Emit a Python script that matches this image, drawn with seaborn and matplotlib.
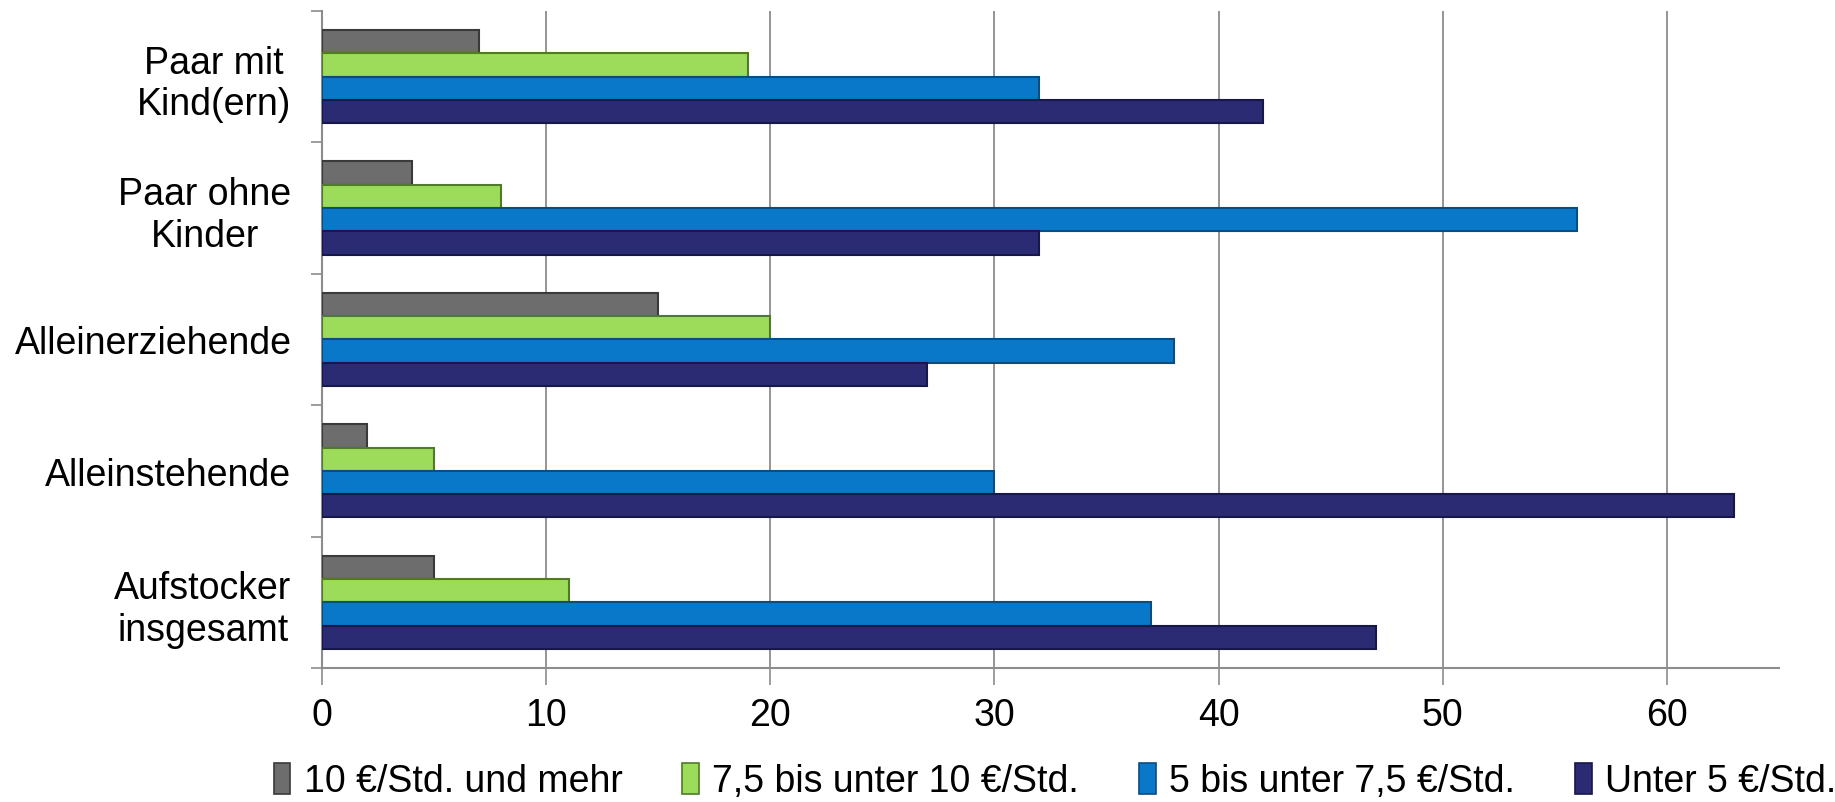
import matplotlib
matplotlib.use("Agg")
import matplotlib.pyplot as plt
import seaborn as sns
import pandas as pd
from matplotlib.patches import Patch

categories = ["Paar mit\nKind(ern)", "Paar ohne\nKinder", "Alleinerziehende",
              "Alleinstehende", "Aufstocker\ninsgesamt"]
series = ["10 €/Std. und mehr", "7,5 bis unter 10 €/Std.",
          "5 bis unter 7,5 €/Std.", "Unter 5 €/Std."]
v_10_mehr = [7, 4, 15, 2, 5]
v_75_10 = [19, 8, 20, 5, 11]
v_5_75 = [32, 56, 38, 30, 37]
v_unter5 = [42, 32, 27, 63, 47]
x_ticks = [0, 10, 20, 30, 40, 50, 60]

colors = ["#6d6d6d", "#9ddc5a", "#0a78c8", "#2b2b74"]
edges = ["#3a3a3a", "#4f7a2a", "#0a4d80", "#17174a"]

rows = []
for s, vals in zip(series, [v_10_mehr, v_75_10, v_5_75, v_unter5]):
    for c, v in zip(categories, vals):
        rows.append({"Kategorie": c, "Serie": s, "Wert": v})
df = pd.DataFrame(rows)

sns.set_theme(style="white")
plt.rcParams["font.family"] = ["Liberation Sans", "DejaVu Sans"]

fig = plt.figure(figsize=(18.35, 8.03), dpi=100)
ax = fig.add_axes([0.1755, 0.167, 0.794, 0.818])

sns.barplot(data=df, y="Kategorie", x="Wert", hue="Serie", order=categories,
            hue_order=series, palette=colors, orient="h", width=0.71,
            saturation=1, errorbar=None, legend=False, ax=ax, zorder=3)

# edge colours per series
n = len(categories)
for i, patch in enumerate(ax.patches):
    si = i // n
    if si < len(edges):
        patch.set_edgecolor(edges[si])
        patch.set_linewidth(1.5)

ax.set_xlim(0, 65)
ax.set_ylim(len(categories) - 0.5, -0.5)
ax.set_xticks(x_ticks)
ax.set_xticklabels([str(t) for t in x_ticks], fontsize=27)
ax.set_xlabel("")
ax.set_ylabel("")

ax.grid(axis="x", color="#8c8c8c", linewidth=1.3, zorder=0)
ax.grid(axis="y", visible=False)
for side in ["top", "right"]:
    ax.spines[side].set_visible(False)
for side in ["left", "bottom"]:
    ax.spines[side].set_color("#8c8c8c")
    ax.spines[side].set_linewidth(1.5)

ax.tick_params(axis="x", which="major", direction="out", length=12, width=1.2,
               color="#8c8c8c", pad=9, bottom=True, labelcolor="black")
ax.set_yticks(range(len(categories)))
ax.set_yticklabels(categories, fontsize=27, multialignment="center")
ax.tick_params(axis="y", which="major", length=0, pad=22, labelcolor="black")
ax.set_yticks([i - 0.5 for i in range(len(categories) + 1)], minor=True)
ax.tick_params(axis="y", which="minor", direction="out", length=8, width=1.2,
               color="#8c8c8c", left=True)

handles = [Patch(facecolor=c, edgecolor=e, linewidth=1.2) for c, e in zip(colors, edges)]
ax.legend(handles, series, loc="center", bbox_to_anchor=(0.503, -0.172), ncol=4,
          frameon=False, fontsize=27, handlelength=0.45, handleheight=0.9,
          handletextpad=0.35, columnspacing=1.6, labelcolor="black")

fig.savefig("out.png", dpi=100)
